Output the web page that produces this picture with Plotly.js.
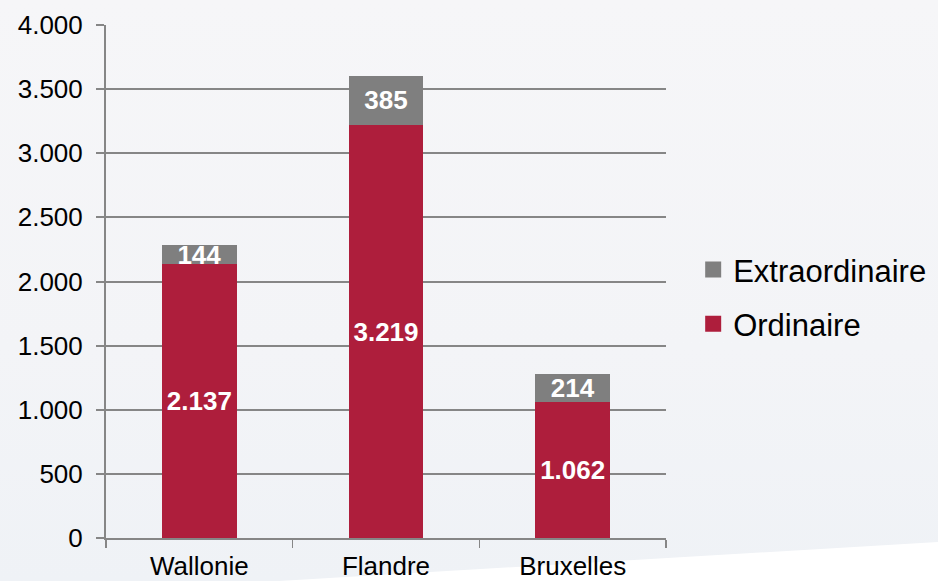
<!DOCTYPE html>
<html>
<head>
<meta charset="utf-8">
<script src="https://cdn.plot.ly/plotly-3.0.1.min.js"></script>
<style>
  html, body { margin: 0; padding: 0; width: 938px; height: 581px; overflow: hidden; }
  body { background: linear-gradient(to bottom, #f6f6f8 0%, #f3f4f7 60%, #eff2f6 100%); position: relative; }
  #wedge { position: absolute; left: 0; top: 0; width: 938px; height: 581px; background: #ffffff;
           clip-path: polygon(279px 581px, 938px 542px, 938px 581px); z-index: 0; }
  #chart { position: absolute; left: 0; top: 0; width: 938px; height: 581px; z-index: 1; }
</style>
</head>
<body>
<div id="wedge"></div>
<div id="chart"></div>
<script>
const categories = ["Wallonie", "Flandre", "Bruxelles"];
const ordinaire = [2137, 3219, 1062];
const extraordinaire = [144, 385, 214];
const seriesNames = ["Ordinaire", "Extraordinaire"];
const yTickValues = [0, 500, 1000, 1500, 2000, 2500, 3000, 3500, 4000];

const RED = "#ae1e3c";
const GRAY = "#7f7f7f";
const FONT = "Liberation Sans, Arial, sans-serif";

const labelFont = { family: FONT, size: 26, color: "#ffffff", weight: "bold" };

const traces = [
  {
    type: "bar", name: seriesNames[0], x: categories, y: ordinaire,
    marker: { color: RED }, width: 0.4,
    texttemplate: "%{y:,}", textposition: "inside", insidetextanchor: "middle",
    textangle: 0, constraintext: "none", textfont: labelFont,
    showlegend: false, hoverinfo: "none"
  },
  {
    type: "bar", name: seriesNames[1], x: categories, y: extraordinaire,
    marker: { color: GRAY }, width: 0.4,
    texttemplate: "%{y:,}", textposition: "inside", insidetextanchor: "middle",
    textangle: 0, constraintext: "none", textfont: labelFont,
    showlegend: false, hoverinfo: "none", cliponaxis: false
  },
  {
    type: "scatter", mode: "markers", name: seriesNames[1], x: [null], y: [null],
    marker: { symbol: "square", size: 16, color: GRAY }, legendgroup: "a", showlegend: true
  },
  {
    type: "scatter", mode: "markers", name: seriesNames[0], x: [null], y: [null],
    marker: { symbol: "square", size: 16, color: RED }, legendgroup: "b", showlegend: true
  }
];

const layout = {
  width: 938, height: 581,
  margin: { l: 106, r: 272, t: 25, b: 43, pad: 0 },
  paper_bgcolor: "rgba(0,0,0,0)",
  plot_bgcolor: "rgba(0,0,0,0)",
  separators: ",.",
  barmode: "stack",
  font: { family: FONT, size: 26, color: "#000000" },
  xaxis: {
    type: "category",
    showline: true, linecolor: "#868686", linewidth: 2,
    ticks: "outside", tickson: "boundaries", ticklen: 8, tickwidth: 1.5, tickcolor: "#868686",
    showgrid: false, zeroline: false, ticklabelstandoff: 4,
    tickfont: { family: FONT, size: 26, color: "#000000" }
  },
  yaxis: {
    range: [0, 4000], tickvals: yTickValues, tickformat: ",d",
    showline: true, linecolor: "#868686", linewidth: 2,
    ticks: "outside", ticklen: 8, tickwidth: 2, tickcolor: "#868686",
    showgrid: true, gridcolor: "#868686", gridwidth: 2,
    zeroline: false, ticklabelstandoff: 8,
    tickfont: { family: FONT, size: 26, color: "#000000" }
  },
  legend: {
    xref: "container", yref: "container",
    x: 0.739, y: 0.582, xanchor: "left", yanchor: "top",
    traceorder: "grouped", tracegroupgap: 11,
    bgcolor: "rgba(0,0,0,0)",
    font: { family: FONT, size: 31, color: "#000000" },
    itemwidth: 30
  },
  showlegend: true
};

Plotly.newPlot("chart", traces, layout, { staticPlot: true, displayModeBar: false });
</script>
</body>
</html>
